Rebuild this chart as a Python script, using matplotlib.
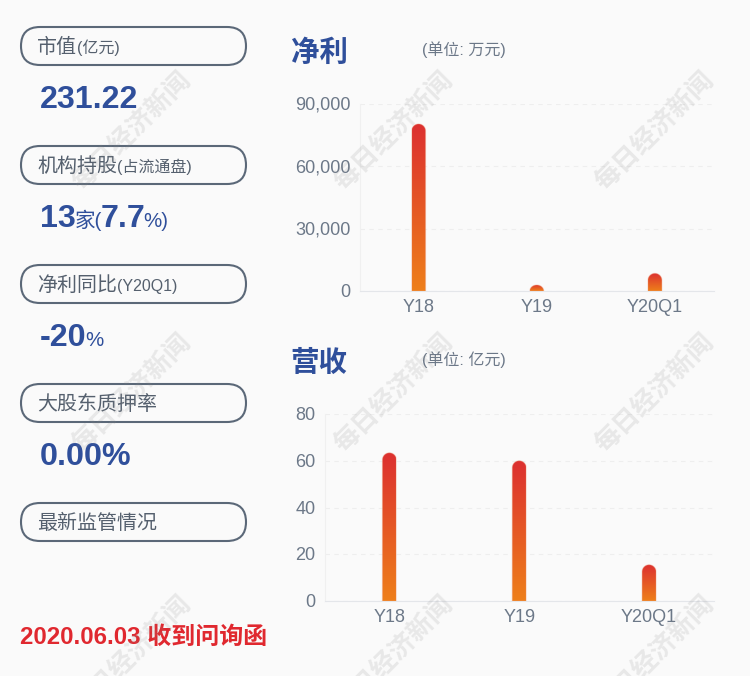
import numpy as np
from matplotlib import pyplot as plt
from matplotlib.colors import LinearSegmentedColormap
from matplotlib.patches import FancyBboxPatch, Polygon
from matplotlib.transforms import ScaledTranslation

plt.rcParams['font.family'] = ['Liberation Sans', 'Noto Sans CJK SC']

W, H = 750, 676
BG = '#fafafa'
BLUE = '#2f4f9b'
GREY = '#6c7888'
PILL = '#5b6878'
RED = '#e0282f'

profit_cats = ['Y18', 'Y19', 'Y20Q1']
profit_vals = [80400, 2900, 8500]
profit_ticks = [0, 30000, 60000, 90000]

revenue_cats = ['Y18', 'Y19', 'Y20Q1']
revenue_vals = [63.4, 60, 15.5]
revenue_ticks = [0, 20, 40, 60, 80]

pills = [
    (27, [('市值', 20), ('(亿元)', 16)]),
    (146, [('机构持股', 20), ('(占流通盘)', 16)]),
    (265, [('净利同比', 20), ('(Y20Q1)', 16)]),
    (384, [('大股东质押率', 20)]),
    (503, [('最新监管情况', 20)]),
]
# (text, pixel size, bold)
values = [
    (108, [('231.22', 32.3, True)]),
    (227, [('13', 32.3, True), ('家(', 20.5, False), ('7.7', 32.3, True), ('%)', 20.5, False)]),
    (346, [('-20', 32.3, True), ('%', 20.5, False)]),
    (465, [('0.00%', 32.3, True)]),
]

bar_cmap = LinearSegmentedColormap.from_list('bar', ['#dc3030', '#ee7f1a'])


def px(size):
    return size * 0.72


def draw_runs(ax, fig, x, y, runs, gap=0.5, **kw):
    renderer = fig.canvas.get_renderer()
    for run in runs:
        s, size = run[:2]
        weight = 'bold' if len(run) > 2 and run[2] else 'normal'
        t = ax.text(x, y, s, fontsize=px(size), va='baseline', ha='left', fontweight=weight, **kw)
        x += t.get_window_extent(renderer).width + gap


def draw_chart(fig, box, cats, vals, ticks, fmt):
    left, top, right, bottom = box
    ax = fig.add_axes([left / W, 1 - bottom / H, (right - left) / W, (bottom - top) / H])
    ax.set_facecolor('none')
    ymax = ticks[-1]
    x = np.arange(len(cats))
    band = (right - left) / len(cats)
    bar_w = 14 / band
    ry_unit = ymax / (bottom - top)

    bars = ax.bar(x, vals, width=bar_w, facecolor='none', edgecolor='none')
    for bar, val in zip(bars, vals):
        x0 = bar.get_x()
        x1 = x0 + bar.get_width()
        ry = min(7 * ry_unit, val)
        ang = np.linspace(np.pi, 0, 30)
        arc = np.column_stack([(x0 + x1) / 2 + (x1 - x0) / 2 * np.cos(ang),
                               val - ry + ry * np.sin(ang)])
        outline = np.vstack([[x0, 0], arc, [x1, 0]])
        im = ax.imshow(np.linspace(0, 1, 128).reshape(-1, 1), cmap=bar_cmap, aspect='auto',
                       extent=(x0, x1, 0, val), origin='upper', zorder=3)
        clip = Polygon(outline, closed=True, transform=ax.transData)
        im.set_clip_path(clip)
        ax.add_patch(Polygon(outline, closed=True, facecolor='none',
                             edgecolor='#f0a080', alpha=0.35, linewidth=0.8, zorder=3))

    ax.set_xlim(-0.5, len(cats) - 0.5)
    ax.set_ylim(0, ymax)
    ax.set_xticks(x, cats)
    ax.set_yticks(ticks, [fmt(t) for t in ticks])
    ax.tick_params(length=0, labelsize=px(18), labelcolor=GREY)
    ax.tick_params(axis='y', pad=6.5)
    ax.tick_params(axis='x', pad=6)
    # the comma upsets centred labels, so sit them on a baseline instead
    shift = ScaledTranslation(0, -0.06, fig.dpi_scale_trans)
    for tick in ax.yaxis.get_major_ticks():
        tick.label1.set_verticalalignment('baseline')
        tick.label1.set_transform(tick.label1.get_transform() + shift)
    ax.grid(True, axis='y', color='#eeeeee', linestyle=(0, (4, 4)), linewidth=0.8)
    ax.set_axisbelow(True)
    for side in ['top', 'right']:
        ax.spines[side].set_visible(False)
    ax.spines['left'].set_color('#f0f0f0')
    ax.spines['bottom'].set_color('#e4e6ea')
    return ax


fig = plt.figure(figsize=(W / 100, H / 100), dpi=100, facecolor=BG)

# page layer in pixel coordinates
page = fig.add_axes([0, 0, 1, 1])
page.set_xlim(0, W)
page.set_ylim(H, 0)
page.axis('off')

for top, runs in pills:
    page.add_patch(FancyBboxPatch((21 + 19, top + 19), 225 - 38, 0,
                                  boxstyle='round,pad=19,rounding_size=19',
                                  facecolor='none', edgecolor=PILL, linewidth=1.5))
    draw_runs(page, fig, 37, top + 26, runs, color='#55606e')

for base, runs in values:
    draw_runs(page, fig, 40, base, runs, gap=-1.5, color=BLUE)

page.text(20, 643.5, '2020.06.03 收到问询函', fontsize=px(24), color=RED, fontweight='bold', va='baseline')

page.text(290.5, 61, '净利', fontsize=px(28.5), color=BLUE, fontweight='bold', va='baseline')
page.text(290.5, 371, '营收', fontsize=px(28.5), color=BLUE, fontweight='bold', va='baseline')
page.text(422, 55, '(单位: 万元)', fontsize=px(16), color=GREY, va='baseline')
page.text(422, 365, '(单位: 亿元)', fontsize=px(16), color=GREY, va='baseline')

draw_chart(fig, (359.5, 104, 714, 291), profit_cats, profit_vals, profit_ticks, lambda v: f'{v:,}')
draw_chart(fig, (324.5, 414, 714, 601), revenue_cats, revenue_vals, revenue_ticks, str)

# watermark on top of everything
mark = fig.add_axes([0, 0, 1, 1], facecolor='none')
mark.set_xlim(0, W)
mark.set_ylim(H, 0)
mark.axis('off')
for wx in [132, 394, 655]:
    for wy in [131, 393, 655]:
        mark.text(wx, wy, '每日经济新闻', fontsize=px(26), color='#888888', alpha=0.16, fontweight='bold',
                  rotation=45, ha='center', va='center', clip_on=True)

fig.savefig('out.png', dpi=100, facecolor=BG)
